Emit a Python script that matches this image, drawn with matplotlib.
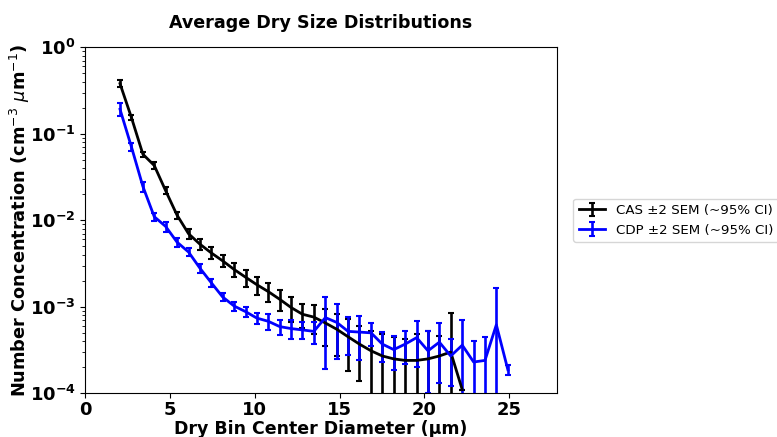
import matplotlib
matplotlib.use("Agg")
import matplotlib.pyplot as plt

# bin centres (um)
diam = [2.05, 2.72, 3.40, 4.07, 4.74, 5.41, 6.09, 6.76, 7.43, 8.10, 8.78, 9.45,
        10.12, 10.79, 11.47, 12.14, 12.81, 13.48, 14.16, 14.83, 15.50, 16.17,
        16.85, 17.52, 18.19, 18.86, 19.54, 20.21, 20.88, 21.55, 22.23, 22.90,
        23.57, 24.24, 24.92]

cas_mean = [0.38, 0.155, 0.058, 0.043, 0.022, 0.0115, 0.0070, 0.0053, 0.0042,
            0.0034, 0.0027, 0.0022, 0.0018, 0.0015, 0.00122, 0.00098, 0.00082,
            0.00076, 0.00065, 0.00055, 0.00045, 0.00037, 0.00031, 0.00027,
            0.00025, 0.00024, 0.00024, 0.00025, 0.00027, 0.00030, 0.00011]
cas_err = [0.036, 0.011, 0.0035, 0.004, 0.002, 0.0011, 0.00088, 0.0008, 0.00065,
           0.00055, 0.00049, 0.00049, 0.00043, 0.00037, 0.00033, 0.00032,
           0.00025, 0.00028, 0.0003, 0.00028, 0.00027, 0.00023, 0.00022,
           0.00021, 0.00020, 0.00019, 0.00024, 0.00028, 0.00019, 0.00054, 0.0]

cdp_mean = [0.192, 0.071, 0.0246, 0.011, 0.0085, 0.0056, 0.0043, 0.0028, 0.0019,
            0.0013, 0.00102, 0.00088, 0.00074, 0.00068, 0.00059, 0.00056,
            0.00054, 0.00052, 0.00075, 0.00066, 0.00052, 0.00051, 0.00050,
            0.00037, 0.00032, 0.00037, 0.00044, 0.00031, 0.00039, 0.00027,
            0.00036, 0.00023, 0.00024, 0.00062, 0.000187]
cdp_err = [0.032, 0.0075, 0.0033, 0.0013, 0.0011, 0.0007, 0.00048, 0.00034,
           0.0002, 0.000145, 0.00013, 0.000115, 0.000105, 0.000135, 0.00012,
           0.000135, 0.00012, 0.00015, 0.00056, 0.00041, 0.00024, 0.00027,
           0.000145, 0.00014, 0.000135, 0.00015, 0.00024, 0.00021, 0.00026,
           0.00015, 0.00034, 0.00017, 0.00021, 0.00104, 0.000023]

fig = plt.figure(figsize=(7.77, 4.37), dpi=100)
ax = fig.add_axes([0.1097, 0.1, 0.6068, 0.7918])

n = len(cas_mean)
ax.errorbar(diam[:n], cas_mean, yerr=cas_err, color="black", lw=2,
            elinewidth=1.9, capsize=2.5, capthick=1.5,
            label="CAS \u00b12 SEM (~95% CI)")
ax.errorbar(diam, cdp_mean, yerr=cdp_err, color="blue", lw=2,
            elinewidth=1.9, capsize=2.5, capthick=1.5,
            label="CDP \u00b12 SEM (~95% CI)")

ax.set_yscale("log")
ax.set_ylim(1e-4, 1)
ax.set_xlim(0, 27.8)

ax.set_title("Average Dry Size Distributions", fontsize=12.6, fontweight="bold", pad=14)
ax.set_xlabel("Dry Bin Center Diameter (\u03bcm)", fontsize=12.5, fontweight="bold")
ax.xaxis.set_label_coords(0.5, -0.078)
ax.set_ylabel("Number Concentration (cm$^{-3}$ $\\mu$m$^{-1}$)", fontsize=12.8,
              fontweight="bold")
ax.yaxis.set_label_coords(-0.113, 0.5)
ax.tick_params(labelsize=13)
ax.tick_params(axis="x", pad=2)
for lab in ax.get_xticklabels() + ax.get_yticklabels():
    lab.set_fontweight("bold")

ax.legend(loc="center left", bbox_to_anchor=(1.035, 0.5), borderaxespad=0, fontsize=9.6)

fig.savefig("out.png", dpi=100)
